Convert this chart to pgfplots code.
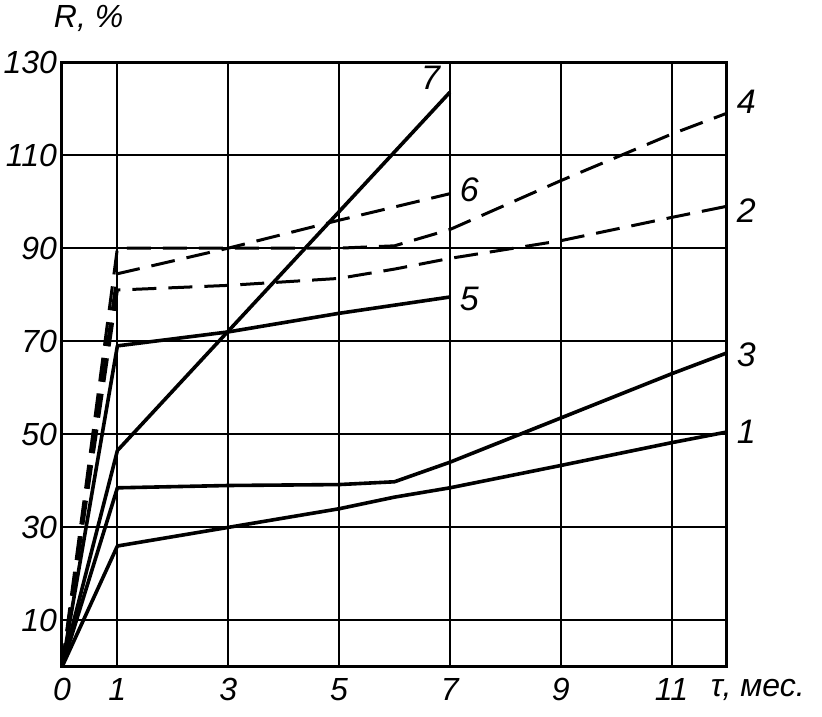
\documentclass[border=0pt]{standalone}
\usepackage{fontspec}
\setmainfont{Liberation Sans}
\usepackage{pgfplots}
\pgfplotsset{compat=1.18}
\pgfplotsset{
  curve/.style={black, line width=1.8pt, line join=round, mark=none},
  dcurve/.style={black, line width=1.5pt, line join=round, mark=none, dash pattern=on 12pt off 6pt},
}
\begin{document}
\begin{tikzpicture}
\begin{axis}[
  scale only axis,
  width=332.5pt, height=302.5pt,
  xmin=0, xmax=12, ymin=0, ymax=130,
  xtick={0,1,3,5,7,9,11},
  ytick={10,30,50,70,90,110,130},
  major tick length=0pt,
  grid=major,
  major grid style={black, line width=1pt},
  axis line style={black, line width=1.5pt},
  /pgf/number format/assume math mode=true,
  tick label style={font=\fontsize{16}{18}\selectfont\itshape},
  xticklabel style={yshift=-2pt},
  yticklabel style={xshift=1pt},
  clip=false,
]
\addplot[curve] coordinates {(0,0)(1,26)(3,30)(5,34)(6,36.5)(7,38.5)(9,43.3)(11,48.2)(12,50.5)};
\addplot[curve] coordinates {(0,0)(1,38.5)(3,39)(5,39.2)(6,39.8)(7,44)(9,53.5)(11,63)(12,67.5)};
\addplot[curve] coordinates {(0,0)(1,46.5)(7,123.5)};
\addplot[curve] coordinates {(0,0)(1,69)(3,72)(5,76)(7,79.5)};
\addplot[dcurve] coordinates {(0,0)(1,84.5)(3,90)(5,96)(7,101.7)};
\addplot[dcurve] coordinates {(0,0)(1,81)(3,82)(5,83.5)(6,85.5)(7,87.8)(9,91.6)(11,96.6)(12,99)};
\addplot[dcurve] coordinates {(0,0)(1,90)(3,90)(5,90)(6,90.5)(7,94)(9,104.5)(11,114.5)(12,119)};
\begin{scope}[font=\fontsize{17}{19}\selectfont\itshape]
\node at (axis cs:6.65,126.5) {7};
\node at (axis cs:7.35,102.5) {6};
\node at (axis cs:7.35,79) {5};
\node at (axis cs:12.35,121.5) {4};
\node at (axis cs:12.35,98) {2};
\node at (axis cs:12.35,67) {3};
\node at (axis cs:12.35,50.5) {1};
\end{scope}
\node[font=\fontsize{16}{18}\selectfont\itshape] at (rel axis cs:0.04,1.072) {R, \%};
\node[font=\fontsize{16}{18}\selectfont\itshape, anchor=west] at (rel axis cs:0.965,-0.038) {τ, мес.};
\coordinate (bl) at (rel axis cs:-0.0932,-0.0826);
\coordinate (tr) at (rel axis cs:1.1429,1.1025);
\end{axis}
\pgfresetboundingbox
\path[use as bounding box] (bl) rectangle (tr);
\end{tikzpicture}
\end{document}
